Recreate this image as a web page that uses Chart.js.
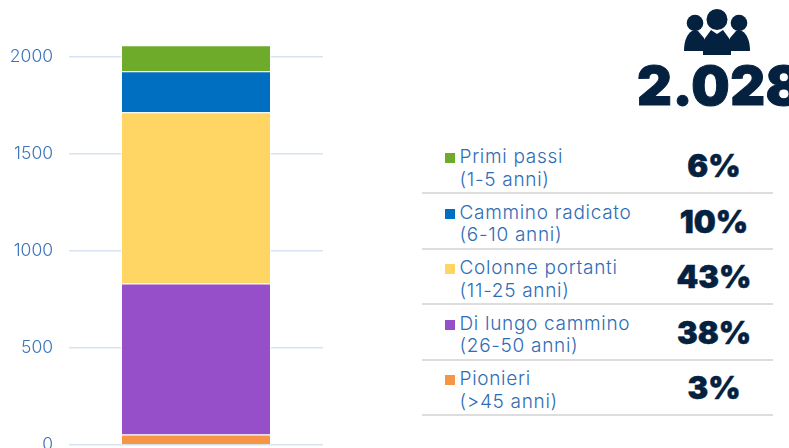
<!DOCTYPE html>
<html>
<head>
<meta charset="utf-8">
<script src="https://cdn.jsdelivr.net/npm/chart.js@4"></script>
<style>
  html, body { margin: 0; padding: 0; background: #fff; overflow: hidden; }
  #page { position: relative; width: 789px; height: 448px; overflow: hidden; font-family: Inter, sans-serif; }
  #chart { position: absolute; left: 0; top: 0; }
  #people { position: absolute; left: 680px; top: 5px; }
  #total { position: absolute; left: 637px; top: 54px; font-size: 54px; line-height: 64px; font-weight: 900; color: #04213f; white-space: nowrap; letter-spacing: 0.5px; -webkit-text-stroke: 1px #04213f; }
  .row { position: absolute; left: 422px; width: 351px; height: 54px; border-bottom: 2px solid #dddddd; }
  .swatch { position: absolute; left: 23px; width: 10px; height: 10px; }
  .label { position: absolute; left: 37.5px; font-size: 19px; line-height: 22.5px; letter-spacing: 0.7px; font-weight: 300; color: #2f6cb5; white-space: nowrap; }
  .pct { position: absolute; left: 232px; width: 120px; text-align: center; font-size: 31px; line-height: 38px; font-weight: 900; color: #04213f; -webkit-text-stroke: 0.5px #04213f; }
</style>
</head>
<body>
<div id="page">
  <canvas id="chart" width="323" height="448"></canvas>
  <svg id="people" width="74" height="54" viewBox="0 0 74 54">
    <g fill="#04213f">
      <circle cx="37" cy="14.5" r="10.5"/>
      <circle cx="15" cy="18" r="8.3"/>
      <circle cx="59" cy="18" r="8.3"/>
      <path d="M4 46 C4 36 7 29 12 26 L18 26 L24 33 L24 46 Z"/>
      <path d="M70 46 C70 36 67 29 62 26 L56 26 L50 33 L50 46 Z"/>
      <path d="M23 50 L23 36 L31 25 L37 29 L43 25 L51 36 L51 50 Z"/>
    </g>
  </svg>
  <div id="total"></div>
  <div id="legend"></div>
</div>
<script>
const categories = ["Anzianità"];
const seriesNames = ["Pionieri", "Di lungo cammino", "Colonne portanti", "Cammino radicato", "Primi passi"];
const seriesValues = [54, 777, 882, 211, 134];
const seriesColors = ["#f69546", "#964fc9", "#ffd664", "#006fc1", "#6fab2b"];
const yearRanges = ["(>45 anni)", "(26-50 anni)", "(11-25 anni)", "(6-10 anni)", "(1-5 anni)"];
const percents = ["3%", "38%", "43%", "10%", "6%"];
const yTicks = [0, 500, 1000, 1500, 2000];
const totalLabel = "2.028";

new Chart(document.getElementById("chart").getContext("2d"), {
  type: "bar",
  data: {
    labels: categories,
    datasets: seriesNames.map((name, i) => ({
      label: name,
      data: [seriesValues[i]],
      backgroundColor: seriesColors[i],
      borderColor: "rgba(255,255,255,0.75)",
      borderWidth: 1,
      barPercentage: 150 / 254,
      categoryPercentage: 1,
    })),
  },
  options: {
    responsive: false,
    animation: false,
    layout: { padding: { top: 8, bottom: 3, left: 0, right: 0 } },
    plugins: { legend: { display: false }, tooltip: { enabled: false } },
    scales: {
      x: { stacked: true, display: false },
      y: {
        stacked: true,
        min: 0,
        max: 2250,
        afterBuildTicks: (scale) => {
          scale.ticks = yTicks.map((v) => ({ value: v }));
        },
        afterFit: (scale) => {
          scale.width = 69;
          // the tick padding would otherwise shrink the plot height
          scale.paddingTop = 0;
          scale.paddingBottom = 0;
        },
        border: { display: false },
        grid: { color: "#d8e4f3", lineWidth: 1.5, drawTicks: false },
        ticks: {
          padding: 16,
          color: "#3d75bb",
          font: { family: "Inter", size: 17.5, weight: "300" },
          callback: (v) => String(v),
        },
      },
    },
  },
});

document.getElementById("total").textContent = totalLabel;

// legend rows read top to bottom, the stack order reversed
const legend = document.getElementById("legend");
const rowTop = 138;
const rowStep = 55.5;
seriesNames.slice().reverse().forEach((name, idx) => {
  const i = seriesNames.length - 1 - idx;
  const row = document.createElement("div");
  row.className = "row";
  row.style.top = rowTop + idx * rowStep + "px";
  row.innerHTML =
    '<div class="swatch" style="top:15px;background:' + seriesColors[i] + '"></div>' +
    '<div class="label" style="top:8px">' + name + "<br>" + yearRanges[i].replace(">", "&gt;") + "</div>" +
    '<div class="pct" style="top:9px">' + percents[i] + "</div>";
  legend.appendChild(row);
});
</script>
</body>
</html>
